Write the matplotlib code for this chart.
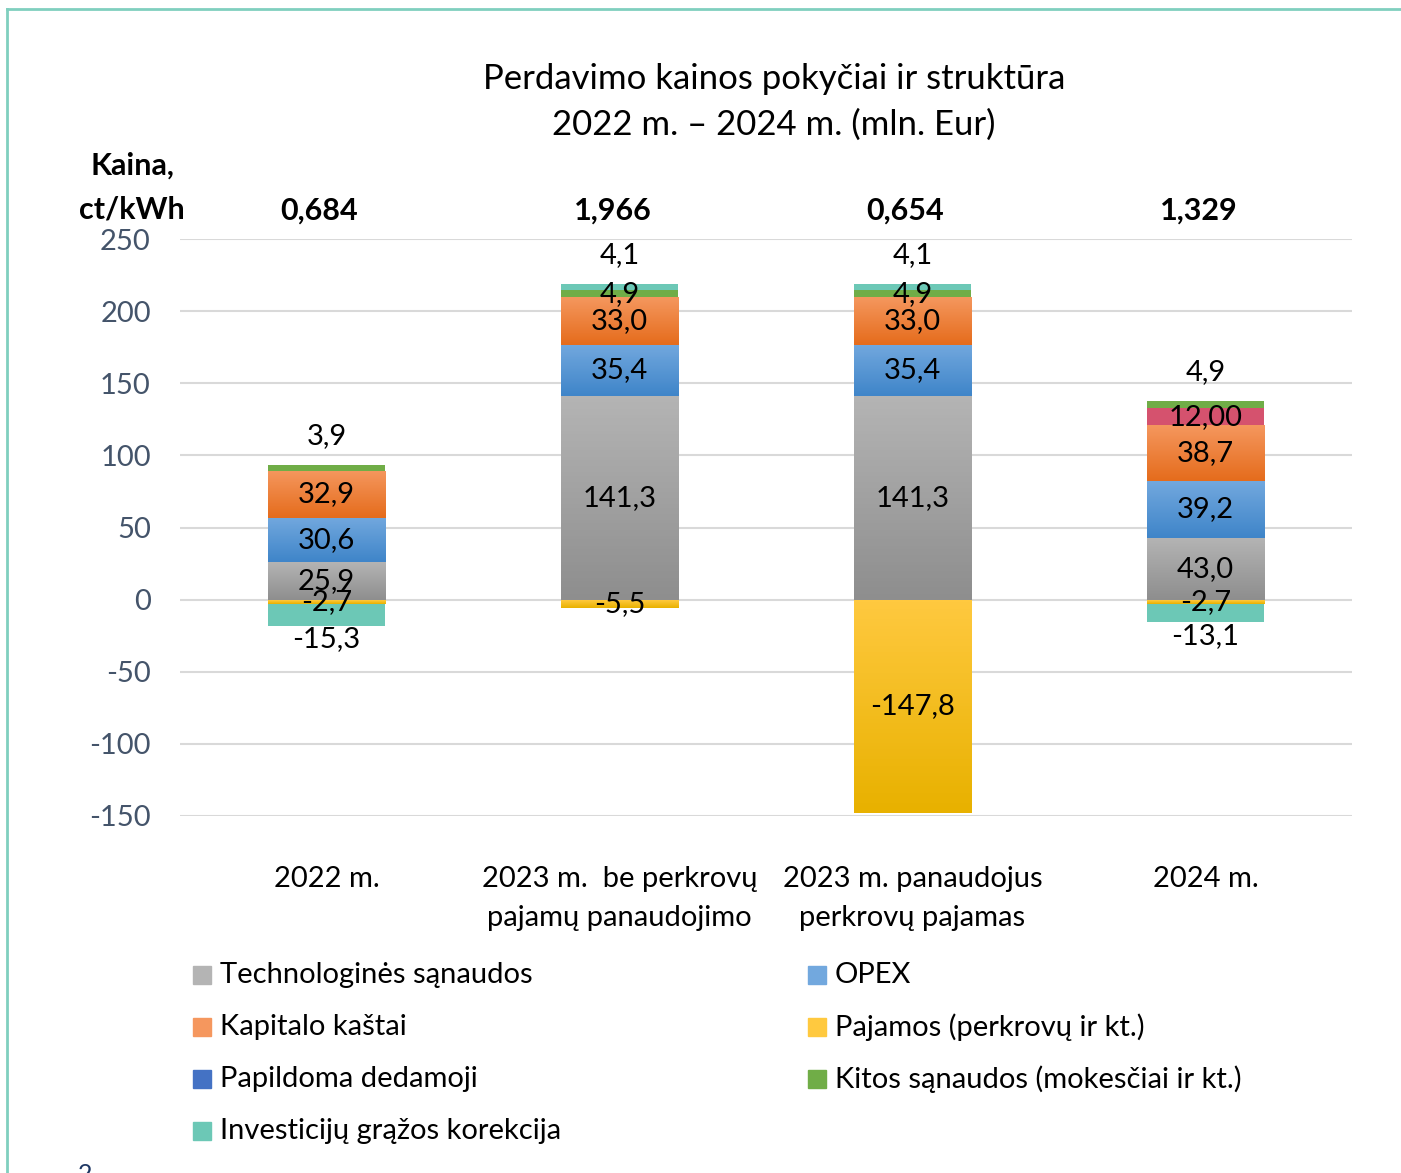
import matplotlib
matplotlib.use("Agg")
import matplotlib.pyplot as plt
import numpy as np
from matplotlib.colors import LinearSegmentedColormap
from matplotlib.patches import Rectangle
from matplotlib.lines import Line2D

plt.rcParams['font.family'] = ['Lato', 'DejaVu Sans']
plt.rcParams['axes.unicode_minus'] = False

# ---- data ----
categories = ['2022 m.', '2023 m.  be perkrovų\npajamų panaudojimo',
              '2023 m. panaudojus\nperkrovų pajamas', '2024 m.']
prices = ['0,684', '1,966', '0,654', '1,329']

technologines = [25.9, 141.3, 141.3, 43.0]
opex = [30.6, 35.4, 35.4, 39.2]
kapitalo = [32.9, 33.0, 33.0, 38.7]
papildoma = [0.0, 0.0, 0.0, 12.00]
kitos = [3.9, 4.9, 4.9, 4.9]
investiciju = [-15.3, 4.1, 4.1, -13.1]
pajamos = [-2.7, -5.5, -147.8, -2.7]

label_fmt = {'papildoma': '{:.2f}'}

# series in stacking order: name, values, colours (top, bottom), legend label
series = [
    ('technologines', technologines, ('#b4b4b4', '#8e8e8e'), 'Technologinės sąnaudos'),
    ('opex', opex, ('#72a8de', '#3f85c9'), 'OPEX'),
    ('kapitalo', kapitalo, ('#f5975e', '#e56c1c'), 'Kapitalo kaštai'),
    ('pajamos', pajamos, ('#ffc93f', '#e8b100'), 'Pajamos (perkrovų ir kt.)'),
    ('papildoma', papildoma, ('#d5526e', '#d5526e'), 'Papildoma dedamoji'),
    ('kitos', kitos, ('#70ad47', '#70ad47'), 'Kitos sąnaudos (mokesčiai ir kt.)'),
    ('investiciju', investiciju, ('#6cc8b6', '#6cc8b6'), 'Investicijų grąžos korekcija'),
]
legend_colors = {'papildoma': '#4472c4'}

FS = 21

fig = plt.figure(figsize=(14.01, 11.73), dpi=100)
ax = fig.add_axes([180 / 1401, 1 - 816 / 1173, 1172 / 1401, 577 / 1173])

x = np.arange(len(categories))
width = 0.40
pos_base = np.zeros(len(x))
neg_base = np.zeros(len(x))
labels = []

for name, vals, (ctop, cbot), lab in series:
    vals = np.array(vals)
    bottoms = np.where(vals >= 0, pos_base, neg_base)
    bars = ax.bar(x, vals, width, bottom=bottoms, color=ctop, linewidth=0, zorder=2)
    cmap = LinearSegmentedColormap.from_list(name, [cbot, ctop])
    for patch, v, b, xi in zip(bars.patches, vals, bottoms, x):
        if v == 0:
            continue
        if ctop != cbot:
            x0 = patch.get_x()
            y0, y1 = sorted([b, b + v])
            grad = np.linspace(1, 0, 64).reshape(-1, 1)
            im = ax.imshow(grad, cmap=cmap, extent=[x0, x0 + width, y0, y1],
                           aspect='auto', origin='upper', zorder=3)
            im.set_clip_path(patch)
        labels.append((name, xi, b, v))
    pos_base = pos_base + np.where(vals > 0, vals, 0)
    neg_base = neg_base + np.where(vals < 0, vals, 0)

# value labels
for name, xi, b, v in labels:
    txt = label_fmt.get(name, '{:.1f}').format(v).replace('.', ',')
    top = b + v
    if v > 0 and np.isclose(top, pos_base[xi]) and name in ('kitos', 'investiciju'):
        ax.annotate(txt, (xi, top), xytext=(0, 21), textcoords='offset points',
                    ha='center', va='center', fontsize=FS, zorder=5)
    elif v < 0 and name == 'investiciju':
        ax.annotate(txt, (xi, top), xytext=(0, -10), textcoords='offset points',
                    ha='center', va='center', fontsize=FS, zorder=5)
    else:
        ax.text(xi, b + v / 2, txt, ha='center', va='center', fontsize=FS, zorder=5)

ax.set_xlim(-0.5, 3.5)
ax.set_ylim(-150, 250)
ax.set_yticks(np.arange(-150, 251, 50))
ax.grid(axis='y', color='#d9d9d9', linewidth=1.5, zorder=0)
ax.set_axisbelow(True)
for s in ax.spines.values():
    s.set_visible(False)
ax.tick_params(axis='y', length=0, pad=21, labelsize=FS, labelcolor='#44546a')
ax.tick_params(axis='x', length=0, pad=36, labelsize=FS)
ax.set_xticks(x)
ax.set_xticklabels(categories, linespacing=1.6)

# price labels above bars
for xi, p in zip(x, prices):
    fig.text((180 + 293 * (xi + 0.5)) / 1401 - 0.005, 1 - 211 / 1173, p,
             ha='center', va='center', fontsize=22, fontweight='bold')
fig.text(132 / 1401, 1 - 166 / 1173, 'Kaina,', ha='center', va='center',
         fontsize=22, fontweight='bold')
fig.text(132 / 1401, 1 - 210 / 1173, 'ct/kWh', ha='center', va='center',
         fontsize=22, fontweight='bold')

# title
fig.text(774 / 1401, 1 - 79 / 1173, 'Perdavimo kainos pokyčiai ir struktūra',
         ha='center', va='center', fontsize=25)
fig.text(774 / 1401, 1 - 125 / 1173, '2022 m. – 2024 m. (mln. Eur)',
         ha='center', va='center', fontsize=25)

# legend (row-major, two columns)
legend_order = ['technologines', 'opex', 'kapitalo', 'pajamos', 'papildoma', 'kitos', 'investiciju']
lookup = {s[0]: s for s in series}
for i, key in enumerate(legend_order):
    name, vals, (ctop, cbot), lab = lookup[key]
    col, row = i % 2, i // 2
    mx = 193 if col == 0 else 808
    my = 975 + 52 * row
    color = legend_colors.get(name, ctop)
    fig.patches.append(Rectangle((mx / 1401, 1 - (my + 9) / 1173), 18 / 1401, 18 / 1173,
                                 transform=fig.transFigure, color=color, figure=fig))
    fig.text((mx + 27) / 1401, 1 - my / 1173, lab, ha='left', va='center', fontsize=FS)

# frame lines and page number
fig.add_artist(Line2D([7 / 1401, 7 / 1401], [0, 1 - 9 / 1173], transform=fig.transFigure,
                      color='#80cfbf', linewidth=2))
fig.add_artist(Line2D([7 / 1401, 1], [1 - 9 / 1173, 1 - 9 / 1173], transform=fig.transFigure,
                      color='#80cfbf', linewidth=2))
fig.text(85 / 1401, 1 - 1163 / 1173, '2', ha='center', va='top', fontsize=18, color='#1f3864')

fig.savefig('out.png', dpi=100)
